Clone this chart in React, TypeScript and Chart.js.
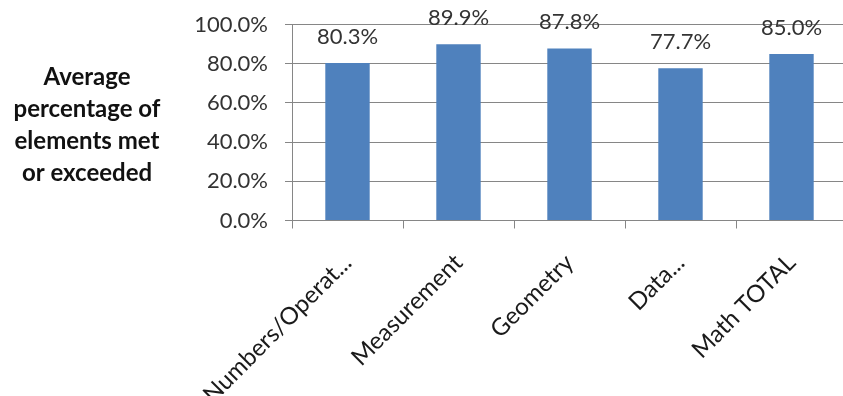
import React, { useEffect, useRef } from "react";
import { Chart, registerables } from "chart.js";

Chart.register(...registerables);

const categories = ["Numbers/Operat...", "Measurement", "Geometry", "Data...", "Math TOTAL"];
const values = [80.3, 89.9, 87.8, 77.7, 85.0];
const yMin = 0;
const yMax = 100;
const yStep = 20;
const axisTitleLines = ["Average", "percentage of", "elements met", "or exceeded"];

const FONT = "Lato, 'DejaVu Sans', sans-serif";

const valueLabelPlugin = {
  id: "valueLabels",
  afterDatasetsDraw(chart: any) {
    const ctx = chart.ctx;
    const meta = chart.getDatasetMeta(0);
    ctx.save();
    ctx.font = `22px ${FONT}`;
    ctx.fillStyle = "#333333";
    ctx.textAlign = "center";
    ctx.textBaseline = "alphabetic";
    meta.data.forEach((bar: any, i: number) => {
      ctx.fillText(values[i].toFixed(1) + "%", bar.x, bar.y - 19);
    });
    ctx.restore();
  },
};

const axisTitlePlugin = {
  id: "axisTitle",
  afterDraw(chart: any) {
    const ctx = chart.ctx;
    ctx.save();
    ctx.font = `bold 24px ${FONT}`;
    ctx.fillStyle = "#111111";
    ctx.textAlign = "center";
    ctx.textBaseline = "middle";
    axisTitleLines.forEach((line, i) => {
      ctx.fillText(line, 87, 77 + i * 32);
    });
    ctx.restore();
  },
};

export default function App() {
  const ref = useRef<HTMLCanvasElement | null>(null);
  useEffect(() => {
    if (!ref.current) return;
    const chart = new Chart(ref.current, {
      type: "bar",
      data: {
        labels: categories,
        datasets: [
          {
            data: values,
            backgroundColor: "#4F81BD",
            borderWidth: 0,
            barPercentage: 0.4,
            categoryPercentage: 1,
          },
        ],
      },
      options: {
        animation: false,
        responsive: false,
        layout: { padding: { top: 24.5, right: 3, bottom: 0, left: 0 } },
        plugins: { legend: { display: false }, tooltip: { enabled: false } },
        scales: {
          x: {
            grid: { offset: true, drawOnChartArea: false, drawTicks: true, tickLength: 8, color: "#868686" },
            border: { display: true, color: "#868686" },
            ticks: {
              maxRotation: 45,
              minRotation: 45,
              autoSkip: false,
              color: "#1a1a1a",
              font: { family: FONT, size: 24 },
              padding: 20,
            },
            afterFit(scale: any) {
              scale.height = 175.5;
              scale.paddingLeft = 0;
              scale.paddingRight = 0;
            },
          },
          y: {
            min: yMin,
            max: yMax,
            grid: { color: "#868686", tickLength: 7 },
            border: { display: true, color: "#868686" },
            ticks: {
              stepSize: yStep,
              color: "#333333",
              font: { family: FONT, size: 22 },
              padding: 17,
              callback: (v: any) => Number(v).toFixed(1) + "%",
            },
            afterFit(scale: any) {
              scale.width = 292;
              scale.paddingTop = 0;
              scale.paddingBottom = 0;
            },
          },
        },
      },
      plugins: [valueLabelPlugin, axisTitlePlugin],
    });
    return () => chart.destroy();
  }, []);
  return (
    <div style={{ position: "fixed", left: 0, top: 0, width: 843, height: 396, overflow: "hidden", background: "#fff" }}>
      <canvas ref={ref} width={850} height={396} style={{ display: "block" }} />
    </div>
  );
}
